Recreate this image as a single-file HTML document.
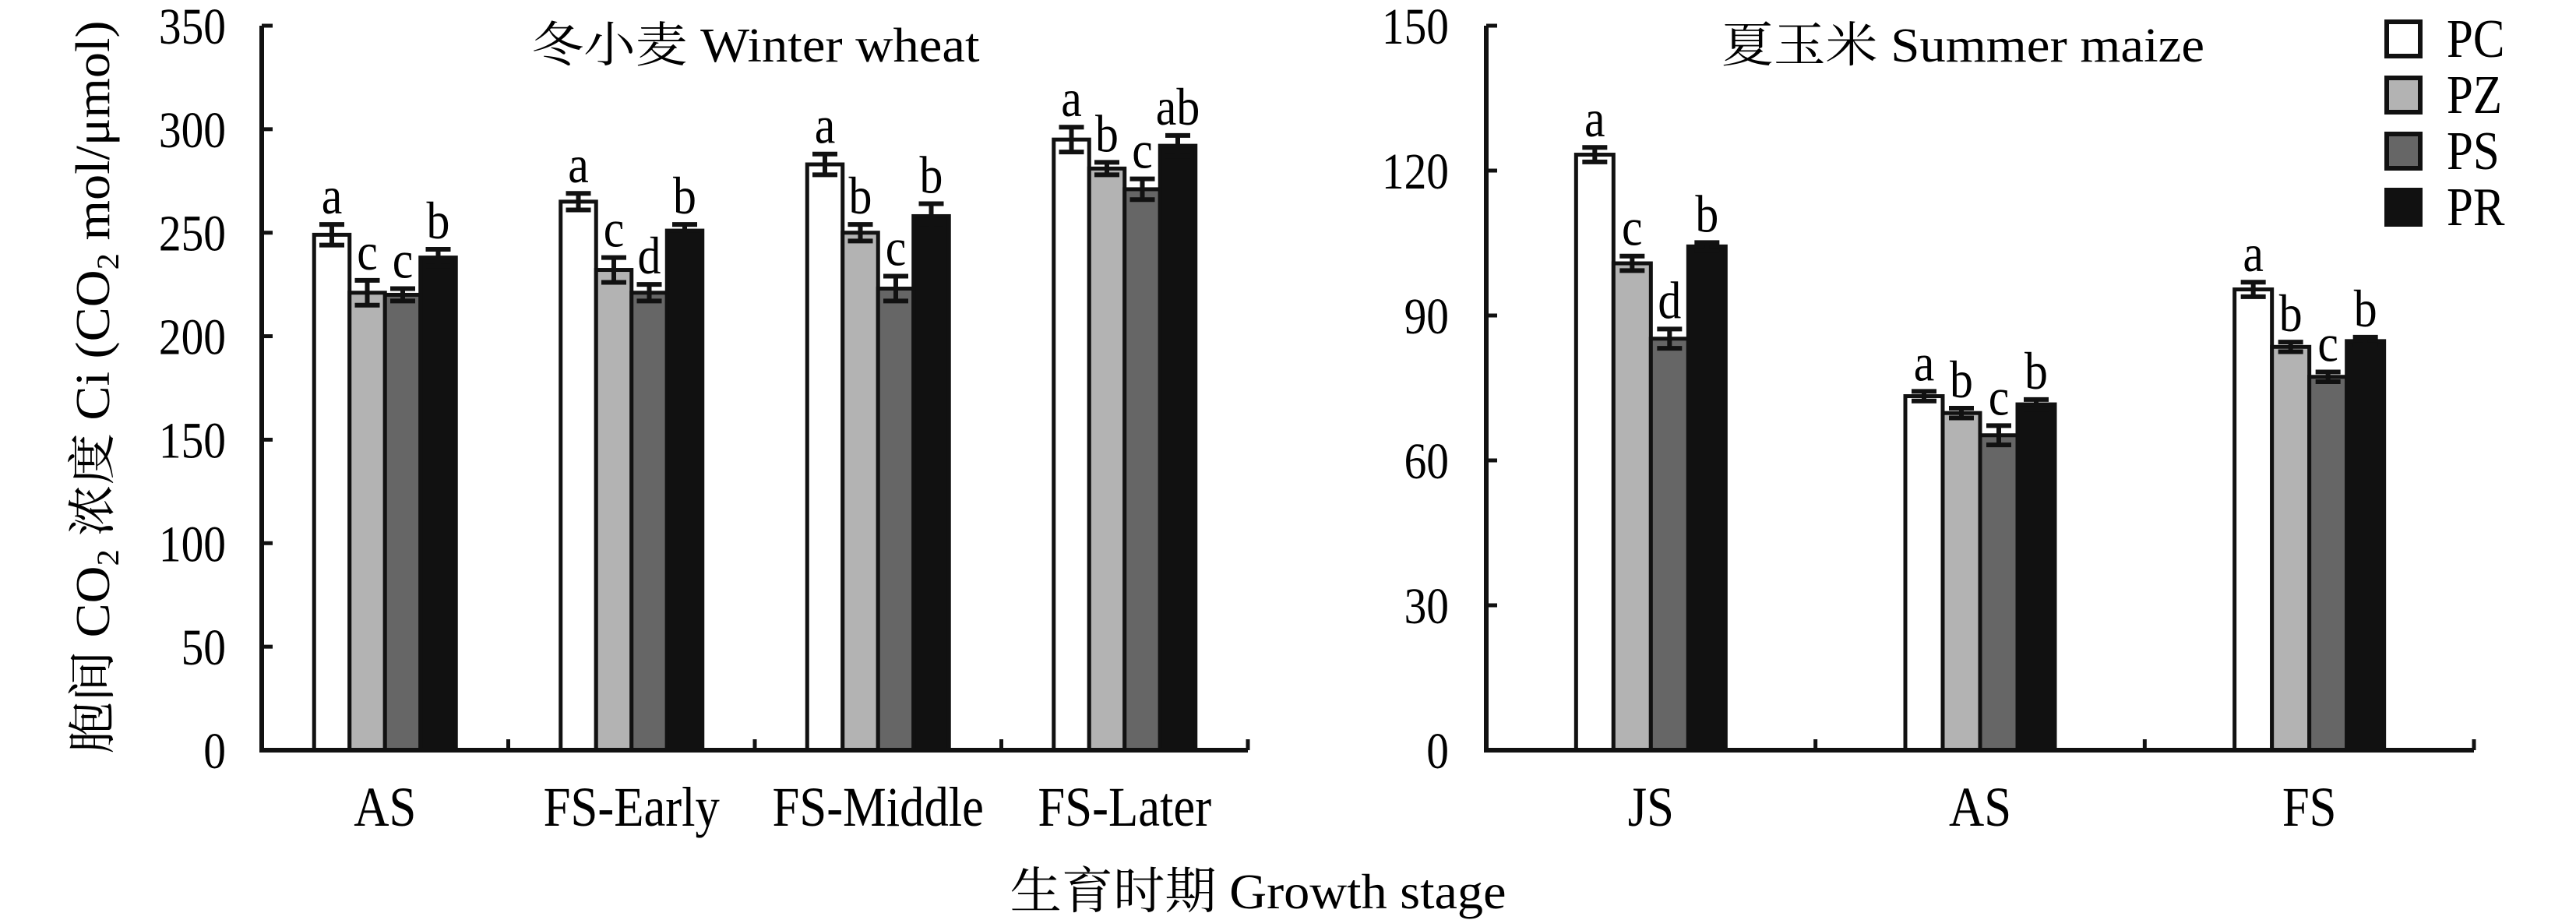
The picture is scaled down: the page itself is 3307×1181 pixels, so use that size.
<!DOCTYPE html>
<html><head><meta charset="utf-8"><style>
html,body{margin:0;padding:0;background:#fff;}
svg{display:block;font-family:"Liberation Serif","Noto Serif CJK SC",serif;}
</style></head><body>
<svg id="chart" width="3307" height="1181" viewBox="0 0 3307 1181" xmlns="http://www.w3.org/2000/svg">
<g id="left"></g>
<g id="right"></g>
<text x="0" y="0" font-size="62" text-anchor="middle" textLength="941" lengthAdjust="spacingAndGlyphs" transform="translate(140,497) rotate(-90)">胞间 CO<tspan font-size="40" dy="12">2</tspan><tspan dy="-12"> 浓度 Ci (CO</tspan><tspan font-size="40" dy="12">2</tspan><tspan dy="-12"> mol/μmol)</tspan></text>
<text x="1615" y="1166" font-size="64" text-anchor="middle" textLength="637" lengthAdjust="spacingAndGlyphs">生育时期 Growth stage</text>
<g id="legend"></g>
</svg>
<script>
const series = ["PC","PZ","PS","PR"];
const fills = ["#ffffff","#b3b3b3","#666666","#111111"];
const wheatCategories = ["AS","FS-Early","FS-Middle","FS-Later"];
const wheatPC = [249,265,283,295];
const wheatPZ = [221,232,250,281];
const wheatPS = [220,221,223,271];
const wheatPR = [238,251,258,292];
const wheatErrPC = [5,4,5,6];
const wheatErrPZ = [6,6,4,3];
const wheatErrPS = [3,4,6,5];
const wheatErrPR = [4,3,6,5];
const wheatLetPC = ["a","a","a","a"];
const wheatLetPZ = ["c","c","b","b"];
const wheatLetPS = ["c","d","c","c"];
const wheatLetPR = ["b","b","b","ab"];
const wheatTicks = [0,50,100,150,200,250,300,350];
const maizeCategories = ["JS","AS","FS"];
const maizePC = [123.3,73.3,95.4];
const maizePZ = [100.8,69.8,83.5];
const maizePS = [85.2,65.2,77.3];
const maizePR = [104.3,71.6,84.7];
const maizeErrPC = [1.5,1,1.5];
const maizeErrPZ = [1.5,1,1];
const maizeErrPS = [2,2,1];
const maizeErrPR = [0.8,1,0.8];
const maizeLetPC = ["a","a","a"];
const maizeLetPZ = ["c","b","b"];
const maizeLetPS = ["d","c","c"];
const maizeLetPR = ["b","b","b"];
const maizeTicks = [0,30,60,90,120,150];

const NS="http://www.w3.org/2000/svg";
function mk(tag,parent,attrs){const e=document.createElementNS(NS,tag);for(const k in attrs)e.setAttribute(k,attrs[k]);parent.appendChild(e);return e;}

function panel(g,cfg){
  const {x0,x1,y0,yT,max,cats,vals,errs,lets,ticks,bw,title,tx,lblR}=cfg;
  const ys=v=>y0-(v/max)*(y0-yT);
  const cw=(x1-x0)/cats.length;
  const xs=i=>x0+cw*(i+0.5);
  // bars
  for(let i=0;i<cats.length;i++){
    for(let s=0;s<4;s++){
      const v=vals[s][i], e=errs[s][i];
      const bx=xs(i)-2*bw+s*bw;
      const r=mk('rect',g,{x:bx,y:ys(v),width:bw,height:y0-ys(v),fill:fills[s],stroke:'#111',"stroke-width":5});
      
      
      const cx=bx+bw/2;
      const eb=mk('path',g,{d:`M${cx-16},${ys(v+e)}H${cx+16}M${cx},${ys(v+e)}V${ys(v-e)}M${cx-16},${ys(v-e)}H${cx+16}`,stroke:'#111',"stroke-width":6,fill:'none'});
      
      
      const t=mk('text',g,{x:0,y:0,"font-size":68,"text-anchor":"middle",transform:`translate(${cx},${ys(v+e)-14}) scale(0.88,1)`});
      t.textContent=lets[s][i];
      
      
    }
    const cl=mk('text',g,{x:0,y:0,"font-size":72,"text-anchor":"middle",transform:`translate(${xs(i)},1060) scale(0.87,1)`});
    cl.textContent=cats[i];
    
    
    if(i>0){const tk=mk('line',g,{x1:x0+cw*i,x2:x0+cw*i,y1:y0,y2:y0-14,stroke:'#111',"stroke-width":5});
      
      }
  }
  const tkEnd=mk('line',g,{x1:x1,x2:x1,y1:y0,y2:y0-14,stroke:'#111',"stroke-width":5});
  
  
  ticks.forEach(v=>{
    const l=mk('line',g,{x1:x0,x2:x0+14,y1:ys(v),y2:ys(v),stroke:'#111',"stroke-width":5});
    
    
    const t=mk('text',g,{x:0,y:0,"font-size":66,"text-anchor":"end",transform:`translate(${lblR},${ys(v)+23}) scale(0.87,1)`});
    t.textContent=v;
    
    
  });
  const ax=mk('path',g,{d:`M${x0},${yT}V${y0}H${x1}`,stroke:'#111',"stroke-width":6,fill:'none'});
  
  
  const tt=mk('text',g,{x:tx,y:79,"font-size":62,"text-anchor":"middle",textLength:title[1],lengthAdjust:"spacingAndGlyphs"});
  tt.textContent=title[0];
  
  
}
panel(document.getElementById('left'),{x0:336,x1:1602,y0:963,yT:33,max:350,cats:wheatCategories,
  vals:[wheatPC,wheatPZ,wheatPS,wheatPR],errs:[wheatErrPC,wheatErrPZ,wheatErrPS,wheatErrPR],
  lets:[wheatLetPC,wheatLetPZ,wheatLetPS,wheatLetPR],ticks:wheatTicks,bw:45.5,title:["冬小麦 Winter wheat",575],tx:970,lblR:290});
panel(document.getElementById('right'),{x0:1908,x1:3176,y0:963,yT:33,max:150,cats:maizeCategories,
  vals:[maizePC,maizePZ,maizePS,maizePR],errs:[maizeErrPC,maizeErrPZ,maizeErrPS,maizeErrPR],
  lets:[maizeLetPC,maizeLetPZ,maizeLetPS,maizeLetPR],ticks:maizeTicks,bw:48,title:["夏玉米 Summer maize",620],tx:2520,lblR:1860});
const lg=document.getElementById('legend');
series.forEach((s,i)=>{
  const r=mk('rect',lg,{x:3064,y:28+i*72,width:43,height:44,fill:fills[i],stroke:'#111',"stroke-width":6});
  
  
  const t=mk('text',lg,{x:0,y:0,"font-size":70,transform:`translate(3141,${73+i*72}) scale(0.87,1)`});
  t.textContent=s;
  
  
});
</script>
</body></html>
